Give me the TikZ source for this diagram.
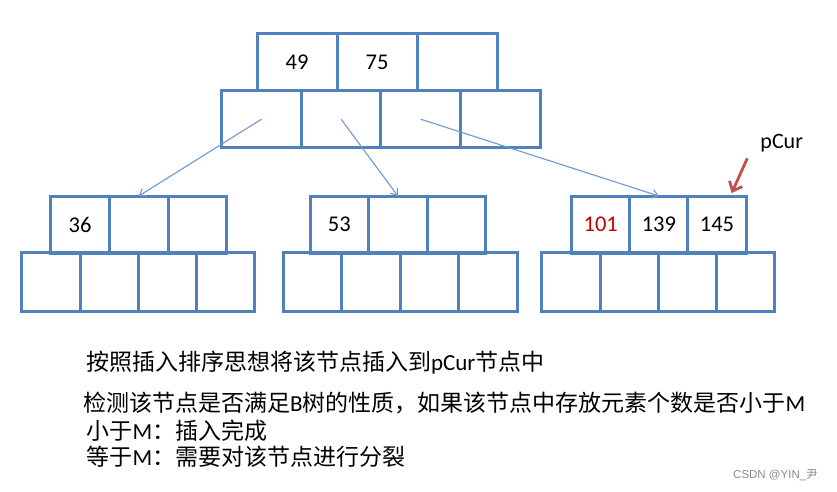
\documentclass[tikz,border=0pt]{standalone}
\usepackage{fontspec}
\setmainfont{Carlito}
\newfontfamily\cjk{Noto Sans CJK SC}
\newfontfamily\wmfont{Liberation Sans}
\usetikzlibrary{arrows.meta,calc}
\definecolor{boxblue}{HTML}{4F81BD}
\definecolor{arrblue}{HTML}{6F98D2}
\definecolor{pred}{HTML}{C0504D}
\definecolor{numred}{HTML}{C00000}
\begin{document}
\begin{tikzpicture}[x=1pt,y=-1pt,
  cellbox/.style n args={2}{draw=boxblue, line width=3pt, minimum width=#1, minimum height=#2,
     inner sep=0pt, outer sep=0pt, font=\fontsize{22.5}{27}\selectfont},
  link/.style={draw=arrblue, line width=1.1pt, -{Straight Barb[length=6pt,width=9pt,line width=1.1pt]}},
  redarrow/.style={draw=pred, line width=2.8pt, -{Straight Barb[length=8pt,width=14pt,line width=2.8pt]}},
  txt/.style={anchor=west, inner sep=0pt, outer sep=0pt, font=\fontsize{23}{27}\selectfont},
]
\fill[white] (0,0) rectangle (837,491);
\useasboundingbox (0,0) rectangle (837,491);

% top node
\node[cellbox={79.6}{57}] (tc1) at (261.5,119.2) {};
\node[cellbox={79.6}{57}] (tc2) at (341.1,119.2) {};
\node[cellbox={79.6}{57}] (tc3) at (420.7,119.2) {};
\node[cellbox={79.6}{57}] (tc4) at (500.3,119.2) {};
\node[cellbox={80}{57.4}] (t1) at (297,62) {49};
\node[cellbox={80}{57.4}] (t2) at (377,62) {75};
\node[cellbox={80}{57.4}] (t3) at (457,62) {};

% left node
\node[cellbox={58.3}{58.5}] (ac1) at (50.85,282.2) {};
\node[cellbox={58.3}{58.5}] (ac2) at (109.15,282.2) {};
\node[cellbox={58.3}{58.5}] (ac3) at (167.45,282.2) {};
\node[cellbox={58.3}{58.5}] (ac4) at (225.75,282.2) {};
\node[cellbox={58.7}{57}] (a1) at (80.05,224.5) {36};
\node[cellbox={58.7}{57}] (a2) at (138.75,224.5) {};
\node[cellbox={58.7}{57}] (a3) at (197.45,224.5) {};

% middle node
\node[cellbox={58.5}{58.5}] (bc1) at (312.55,282.2) {};
\node[cellbox={58.5}{58.5}] (bc2) at (371.05,282.2) {};
\node[cellbox={58.5}{58.5}] (bc3) at (429.55,282.2) {};
\node[cellbox={58.5}{58.5}] (bc4) at (488.05,282.2) {};
\node[cellbox={58.6}{57}] (b1) at (339.3,224.5) {53};
\node[cellbox={58.6}{57}] (b2) at (397.9,224.5) {};
\node[cellbox={58.6}{57}] (b3) at (456.5,224.5) {};

% right node
\node[cellbox={58.3}{58.5}] (cc1) at (570.85,282.2) {};
\node[cellbox={58.3}{58.5}] (cc2) at (629.15,282.2) {};
\node[cellbox={58.3}{58.5}] (cc3) at (687.45,282.2) {};
\node[cellbox={58.3}{58.5}] (cc4) at (745.75,282.2) {};
\node[cellbox={58.1}{57}, text=numred] (c1) at (600.75,224.5) {101};
\node[cellbox={58.1}{57}] (c2) at (658.85,224.5) {139};
\node[cellbox={58.1}{57}] (c3) at (716.95,224.5) {145};

% links
\draw[link] (tc1.center) -- (a2.north);
\draw[link] (tc2.center) -- (b2.north);
\draw[link] (tc3.center) -- (c2.north);

% pCur
\node[inner sep=0pt, font=\fontsize{22}{26}\selectfont] (plabel) at (781.7,143) {pCur};
\coordinate (ps) at (747.3,158.3);
\coordinate (pe) at (731.7,193);
\draw[redarrow] (ps) -- (pe);

% text
\node[txt] (l1) at (86,363) {{\cjk 按照插入排序思想将该节点插入到}pCur{\cjk 节点中}};
\node[txt] (l2) at (83,403) {{\cjk 检测该节点是否满足}B{\cjk 树的性质，如果该节点中存放元素个数是否小于}M};
\node[txt] (l3) at (86.5,431) {{\cjk 小于}M{\cjk ：插入完成}};
\node[txt] (l4) at (86.5,457) {{\cjk 等于}M{\cjk ：需要对该节点进行分裂}};

% watermark
\node[anchor=west, inner sep=0pt, text=black!45, font=\wmfont\fontsize{11.5}{13}\selectfont] (wm) at (733,475) {CSDN @YIN\_{\cjk 尹}};
\end{tikzpicture}
\end{document}
